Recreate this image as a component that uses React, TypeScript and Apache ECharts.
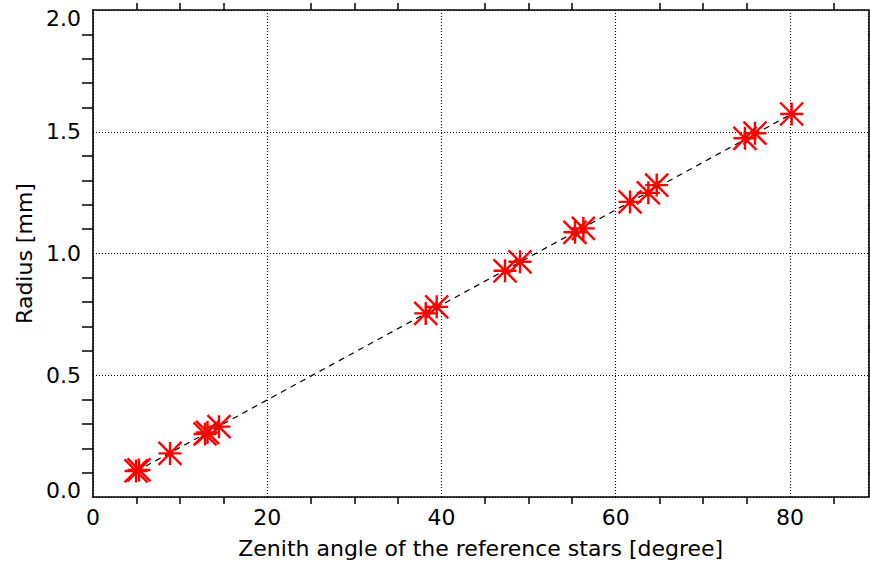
import React, { useEffect, useRef } from "react";
import * as echarts from "echarts";

// Zenith angle [degree] of the reference stars
const zenithAngle = [
  4.94, 5.28, 8.84, 12.86, 13.14, 14.46, 38.19, 39.45, 47.29, 49.01,
  55.32, 56.28, 61.64, 63.74, 64.7, 74.83, 75.98, 80.19,
];
// Radius [mm]
const radius = [
  0.107, 0.111, 0.179, 0.259, 0.265, 0.289, 0.754, 0.781, 0.929, 0.966,
  1.087, 1.103, 1.212, 1.249, 1.281, 1.473, 1.494, 1.573,
];
// Dashed linear fit, end points
const fitX = [4.94, 80.19];
const fitY = [0.105, 1.573];

const xTitle = "Zenith angle of the reference stars [degree]";
const yTitle = "Radius [mm]";

const FONT = "'DejaVu Sans', 'Liberation Sans', Arial, sans-serif";
const ASTERISK = "path://M-1,0L1,0M0,-1L0,1M-1,-1L1,1M-1,1L1,-1";

export default function App() {
  const ref = useRef<HTMLDivElement>(null);
  useEffect(() => {
    if (!ref.current) return;
    const chart = echarts.init(ref.current, undefined, { renderer: "svg" });
    const axisLine = { show: true, onZero: false, lineStyle: { color: "#000", width: 1.6 } };
    const grid = { show: true, lineStyle: { color: "#000", width: 1.1, type: [1, 2] } };
    const xCommon = {
      type: "value",
      min: 0,
      max: 89,
      interval: 20,
      axisLine,
      axisTick: { show: false },
      minorTick: { show: true, splitNumber: 4, length: 7, lineStyle: { color: "#000", width: 1.5 } },
      minorSplitLine: { show: false },
    };
    const yCommon = {
      type: "value",
      min: 0,
      max: 2,
      interval: 0.5,
      axisLine,
      axisTick: { show: false },
      minorTick: { show: true, splitNumber: 5, length: 11, lineStyle: { color: "#000", width: 1.5 } },
      minorSplitLine: { show: false },
    };
    chart.setOption({
      animation: false,
      backgroundColor: "#fff",
      grid: { left: 93, right: 1.6, top: 10, bottom: 71 },
      xAxis: [
        {
          ...xCommon,
          position: "bottom",
          splitLine: grid,
          minorTick: { ...xCommon.minorTick, inside: true },
          axisLabel: { color: "#000", fontSize: 22, fontFamily: FONT, margin: 9, showMaxLabel: false },
          name: xTitle,
          nameLocation: "middle",
          nameGap: 40,
          nameTextStyle: { color: "#000", fontSize: 22, fontFamily: FONT },
        },
        {
          ...xCommon,
          position: "top",
          splitLine: { show: false },
          axisLabel: { show: false },
          minorTick: { ...xCommon.minorTick, inside: true },
        },
      ],
      yAxis: [
        {
          ...yCommon,
          position: "left",
          splitLine: grid,
          minorTick: { ...yCommon.minorTick, inside: true },
          axisLabel: {
            color: "#000",
            fontSize: 22,
            fontFamily: FONT,
            margin: 12,
            formatter: (v: number) => {
              const s = v.toFixed(1);
              if (v === 0) return "{lo|" + s + "}";
              if (v === 2) return "{hi|" + s + "}";
              return s;
            },
            rich: {
              lo: { fontSize: 22, fontFamily: FONT, color: "#000", padding: [0, 0, 14, 0] },
              hi: { fontSize: 22, fontFamily: FONT, color: "#000", padding: [16, 0, 0, 0] },
            },
          },
          name: yTitle,
          nameLocation: "middle",
          nameGap: 58,
          nameRotate: 90,
          nameTextStyle: { color: "#000", fontSize: 22, fontFamily: FONT },
        },
        {
          ...yCommon,
          position: "right",
          splitLine: { show: false },
          axisLabel: { show: false },
          minorTick: { ...yCommon.minorTick, inside: true },
        },
      ],
      series: [
        {
          type: "line",
          data: fitX.map((x, i) => [x, fitY[i]]),
          showSymbol: false,
          symbol: "none",
          lineStyle: { color: "#000", width: 1.2, type: [6, 5] },
          silent: true,
          z: 3,
        },
        {
          type: "scatter",
          data: zenithAngle.map((x, i) => [x, radius[i]]),
          symbol: ASTERISK,
          symbolSize: 23,
          itemStyle: { color: "none", borderColor: "#ff0000", borderWidth: 2.4, opacity: 1 },
          z: 4,
        },
      ],
    });
    return () => chart.dispose();
  }, []);
  return (
    <div
      ref={ref}
      style={{ position: "absolute", left: 0, top: 0, width: 870, height: 568 }}
    />
  );
}
